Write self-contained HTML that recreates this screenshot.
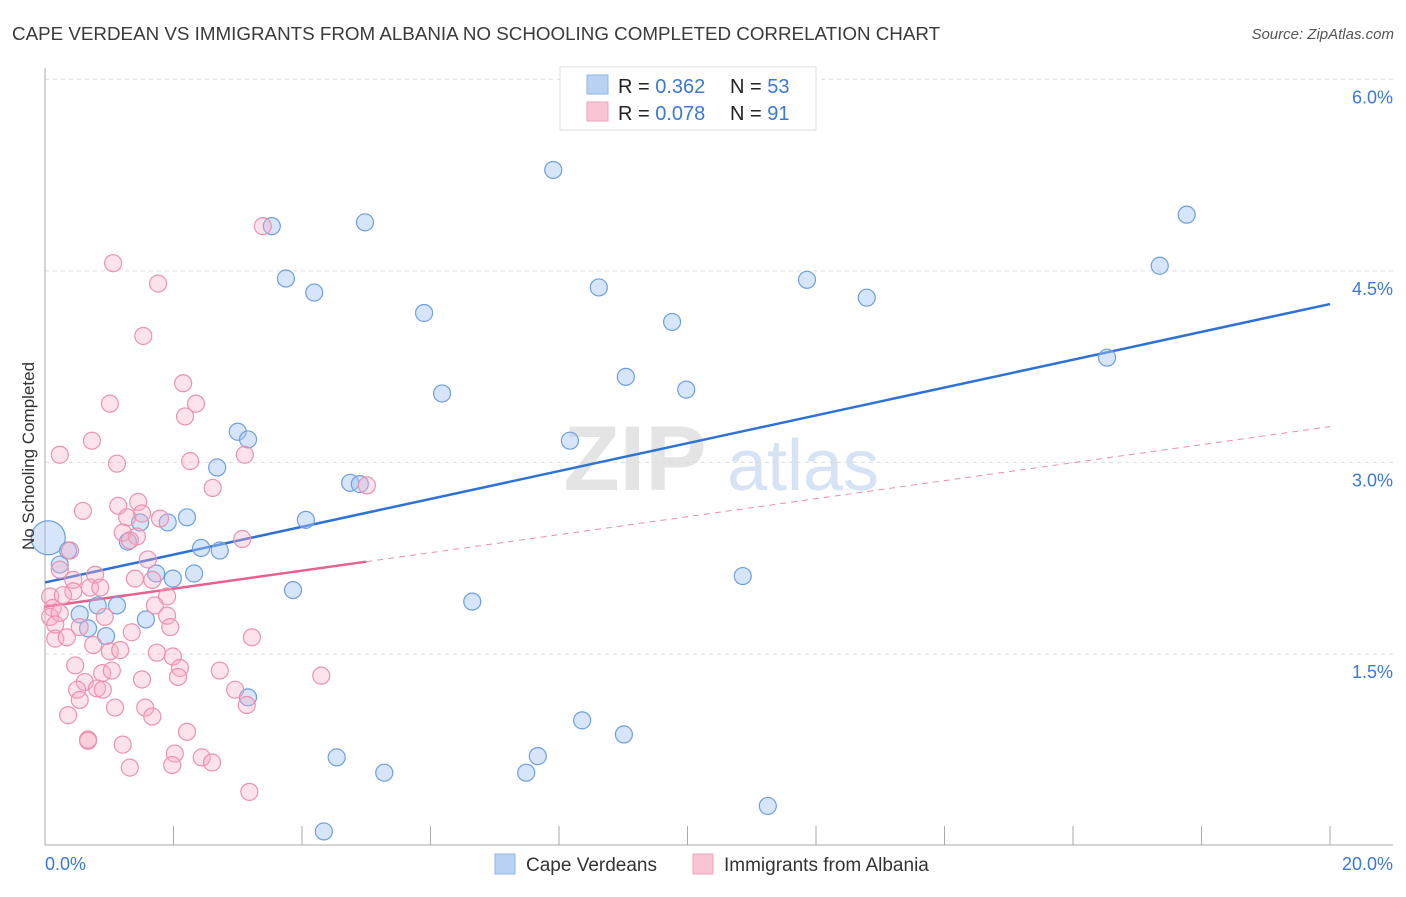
<!DOCTYPE html>
<html><head><meta charset="utf-8"><style>
body{margin:0;background:#fff;font-family:"Liberation Sans",sans-serif;}
svg text{font-family:"Liberation Sans",sans-serif;}
</style></head><body>
<svg id="chart" width="1406" height="892" xmlns="http://www.w3.org/2000/svg">
<text x="12" y="40" font-size="18.8" fill="#3a3a3a">CAPE VERDEAN VS IMMIGRANTS FROM ALBANIA NO SCHOOLING COMPLETED CORRELATION CHART</text>
<text x="1394" y="39" font-size="15" fill="#555" font-style="italic" text-anchor="end">Source: ZipAtlas.com</text>
<g>
<text x="635" y="490" font-size="92" fill="#e4e4e4" font-family="Liberation Serif" text-anchor="middle" font-weight="bold">ZIP</text>
<text x="803" y="490" font-size="72" fill="#d6e3f5" text-anchor="middle">atlas</text>
</g>
<g id="grid"></g>
<g id="axes"></g>
<g id="lines"></g>
<g id="points"></g>
<text transform="translate(34,456) rotate(-90)" font-size="17" fill="#333" text-anchor="middle">No Schooling Completed</text>
<g>
<rect x="560" y="67" width="256" height="63" fill="#fff" stroke="#ddd"/>
<rect x="587" y="75" width="21" height="19" fill="#b9d2f4" stroke="#8fb4e8"/>
<rect x="587" y="102" width="21" height="19" fill="#f9c5d4" stroke="#f0a2bb"/>
<text x="618" y="93" font-size="20" fill="#222">R = <tspan fill="#3b78d8">0.362</tspan></text>
<text x="730" y="93" font-size="20" fill="#222">N = <tspan fill="#3b78d8">53</tspan></text>
<text x="618" y="120" font-size="20" fill="#222">R = <tspan fill="#3b78d8">0.078</tspan></text>
<text x="730" y="120" font-size="20" fill="#222">N = <tspan fill="#3b78d8"> 91</tspan></text>
</g>
<g>
<rect x="495" y="854" width="20" height="20" fill="#b9d2f4" stroke="#8fb4e8"/>
<text x="526" y="871" font-size="19" fill="#333">Cape Verdeans</text>
<rect x="693" y="854" width="20" height="20" fill="#f9c5d4" stroke="#f0a2bb"/>
<text x="724" y="871" font-size="19" fill="#333">Immigrants from Albania</text>
</g>
</svg>
<script>
const xTickLabels=["0.0%","20.0%"];
const yTicks=[1.5,3.0,4.5,6.0];
const yTickLabels=["1.5%","3.0%","4.5%","6.0%"];
const blueX=[0.05,0.23,0.36,0.54,0.67,0.82,0.95,1.12,1.29,1.48,1.57,1.73,1.91,1.99,2.21,2.32,2.43,2.68,2.72,3.00,3.16,3.16,3.75,3.86,4.06,4.19,4.34,4.54,4.75,4.90,4.98,5.28,5.90,6.18,6.65,7.49,7.67,7.91,8.17,8.36,8.62,9.01,9.04,9.76,9.98,10.86,11.25,11.86,12.79,16.53,17.35,17.77,3.53];
const blueY=[2.41,2.20,2.31,1.81,1.70,1.88,1.64,1.88,2.38,2.53,1.77,2.13,2.53,2.09,2.57,2.13,2.33,2.96,2.31,3.24,3.18,1.16,4.44,2.00,2.55,4.33,0.11,0.69,2.84,2.83,4.88,0.57,4.17,3.54,1.91,0.57,0.70,5.29,3.17,0.98,4.37,0.87,3.67,4.10,3.57,2.11,0.31,4.43,4.29,3.82,4.54,4.94,4.85];
const pinkX=[2.15,2.35,2.18,1.01,0.73,0.23,1.12,2.26,3.11,2.61,5.01,0.59,1.14,1.45,1.51,1.28,1.79,1.21,1.43,1.32,3.07,0.39,1.60,0.23,0.78,0.44,1.40,1.67,0.70,0.86,0.44,0.08,0.28,1.90,0.12,1.71,0.08,0.23,0.93,1.90,0.54,1.35,1.95,3.22,0.16,0.34,0.75,1.01,1.17,1.74,1.99,0.47,2.10,0.89,1.04,2.72,4.30,2.07,0.62,0.50,0.81,0.90,0.54,1.51,2.96,3.14,1.09,1.56,1.67,0.36,0.67,2.21,1.21,2.02,2.44,2.60,1.32,1.98,3.18,1.06,1.76,1.53,3.39,0.16,0.67];
const pinkY=[3.62,3.46,3.36,3.46,3.17,3.06,2.99,3.01,3.06,2.80,2.82,2.62,2.66,2.69,2.60,2.57,2.56,2.45,2.42,2.39,2.40,2.31,2.24,2.16,2.12,2.08,2.09,2.08,2.02,2.02,1.99,1.95,1.96,1.95,1.86,1.88,1.79,1.82,1.79,1.80,1.71,1.67,1.71,1.63,1.62,1.63,1.57,1.52,1.53,1.51,1.48,1.41,1.39,1.35,1.37,1.37,1.33,1.32,1.28,1.22,1.23,1.22,1.14,1.30,1.22,1.10,1.08,1.08,1.01,1.02,0.83,0.89,0.79,0.72,0.69,0.65,0.61,0.63,0.42,4.56,4.40,3.99,4.85,1.73,0.82];
const blueTrend=[2.06,4.24];
const pinkTrend=[1.87,3.28];
const pinkSolidEnd=5.0;

const NS="http://www.w3.org/2000/svg";
const X0=45,X1=1330,Y0=845.5,YS=127.7;
function sx(v){return X0+(X1-X0)*v/20;}
function sy(v){return Y0-v*YS;}
function mk(tag,attrs,parent){const e=document.createElementNS(NS,tag);for(const k in attrs)e.setAttribute(k,attrs[k]);parent.appendChild(e);return e;}
const grid=document.getElementById('grid'),axes=document.getElementById('axes'),lines=document.getElementById('lines'),pts=document.getElementById('points');
yTicks.forEach((t,i)=>{
  const l=mk('line',{x1:X0,x2:1393,y1:sy(t),y2:sy(t),stroke:'#dcdcdc','stroke-dasharray':'4,4'},grid);
  
  
  const tx=mk('text',{x:1393,y:sy(t)+24,'font-size':18,fill:'#3b78d8','text-anchor':'end'},axes);
  tx.textContent=yTickLabels[i];
  
  
});
const ax=mk('line',{x1:X0,x2:1393,y1:845,y2:845,stroke:'#aaa'},axes);


const ay=mk('line',{x1:X0,x2:X0,y1:68,y2:845,stroke:'#aaa'},axes);


for(let i=1;i<=10;i++){
  const t=mk('line',{x1:sx(i*2),x2:sx(i*2),y1:826,y2:845,stroke:'#aaa'},axes);
  
  
}
const xl0=mk('text',{x:45,y:870,'font-size':18,fill:'#3b78d8'},axes);xl0.textContent=xTickLabels[0];


const xl1=mk('text',{x:1393,y:870,'font-size':18,fill:'#3b78d8','text-anchor':'end'},axes);xl1.textContent=xTickLabels[1];



blueX.forEach((x,i)=>{
  const c=mk('circle',{cx:sx(x),cy:sy(blueY[i]),r:i===0?17:8.5,fill:'rgba(165,198,242,0.45)',stroke:'#6f9fe0','stroke-width':1.2},pts);
  
  
});
pinkX.forEach((x,i)=>{
  const c=mk('circle',{cx:sx(x),cy:sy(pinkY[i]),r:8.5,fill:'rgba(246,172,196,0.35)',stroke:'#ec92b0','stroke-width':1.2},pts);
  
  
});
const pinkAt=x=>pinkTrend[0]+(pinkTrend[1]-pinkTrend[0])*x/20;
const pd=mk('line',{x1:sx(pinkSolidEnd),y1:sy(pinkAt(pinkSolidEnd)),x2:sx(20),y2:sy(pinkTrend[1]),stroke:'#eb8fae','stroke-width':1,'stroke-dasharray':'6,5'},lines);


const ps=mk('line',{x1:sx(0),y1:sy(pinkTrend[0]),x2:sx(pinkSolidEnd),y2:sy(pinkAt(pinkSolidEnd)),stroke:'#e8608d','stroke-width':2.5},lines);


const bl=mk('line',{x1:sx(0),y1:sy(blueTrend[0]),x2:sx(20),y2:sy(blueTrend[1]),stroke:'#2f72d6','stroke-width':2.5},lines);


</script>
</body></html>
